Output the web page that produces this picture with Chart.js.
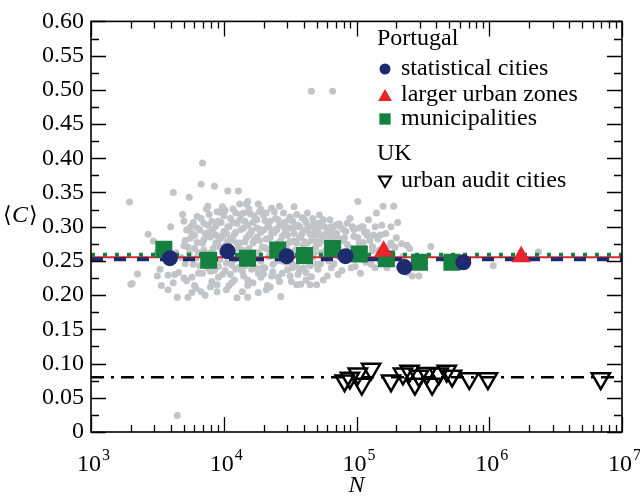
<!DOCTYPE html>
<html>
<head>
<meta charset="utf-8">
<script src="https://cdn.jsdelivr.net/npm/chart.js@4.4.1/dist/chart.umd.min.js"></script>
<style>
  html, body { margin: 0; padding: 0; background: #fff; }
  canvas { display: block; }
</style>
</head>
<body>
<canvas id="chart" width="640" height="497"></canvas>
<script>
  // --- data (x values are log10 N) ---
  var xDecades = [3, 4, 5, 6, 7];
  var yMin = 0, yMax = 0.6, yStep = 0.05;

  // grey background cloud [log10 N, C]
  var grayCities = [
    [3.29,0.336],[3.30,0.216],[3.31,0.217],[3.35,0.231],[3.43,0.289],[3.47,0.279],[3.50,0.228],[3.50,0.263],
    [3.52,0.238],[3.53,0.214],[3.55,0.271],[3.58,0.229],[3.58,0.208],[3.60,0.300],[3.62,0.350],[3.63,0.230],
    [3.64,0.262],[3.65,0.197],[3.65,0.024],[3.66,0.233],[3.68,0.255],[3.70,0.308],[3.70,0.272],[3.71,0.280],
    [3.72,0.295],[3.72,0.221],[3.73,0.197],[3.74,0.343],[3.74,0.261],[3.75,0.283],[3.76,0.204],[3.76,0.290],
    [3.77,0.306],[3.77,0.245],[3.78,0.268],[3.79,0.254],[3.79,0.210],[3.80,0.298],[3.80,0.277],[3.81,0.232],
    [3.82,0.243],[3.83,0.362],[3.83,0.312],[3.84,0.393],[3.84,0.276],[3.85,0.305],[3.85,0.266],[3.86,0.200],
    [3.86,0.290],[3.87,0.286],[3.88,0.330],[3.88,0.240],[3.88,0.302],[3.89,0.318],[3.89,0.249],[3.90,0.262],
    [3.90,0.285],[3.91,0.220],[3.92,0.296],[3.92,0.268],[3.93,0.359],[3.93,0.236],[3.94,0.276],[3.94,0.301],
    [3.95,0.215],[3.95,0.205],[3.96,0.308],[3.96,0.279],[3.97,0.252],[3.97,0.321],[3.98,0.286],[3.99,0.329],
    [3.99,0.230],[3.99,0.262],[4.00,0.316],[4.00,0.293],[4.01,0.272],[4.02,0.247],[4.03,0.352],[4.03,0.300],
    [4.03,0.278],[4.04,0.214],[4.05,0.283],[4.05,0.312],[4.06,0.244],[4.06,0.218],[4.06,0.266],[4.07,0.326],
    [4.08,0.289],[4.09,0.292],[4.09,0.238],[4.10,0.196],[4.10,0.305],[4.11,0.352],[4.11,0.268],[4.12,0.333],
    [4.12,0.310],[4.12,0.276],[4.13,0.255],[4.14,0.235],[4.15,0.298],[4.15,0.320],[4.16,0.278],[4.16,0.243],
    [4.17,0.333],[4.18,0.337],[4.18,0.222],[4.18,0.214],[4.18,0.197],[4.18,0.302],[4.19,0.288],[4.19,0.268],
    [4.20,0.319],[4.20,0.290],[4.21,0.262],[4.22,0.306],[4.22,0.249],[4.23,0.281],[4.24,0.240],[4.25,0.285],
    [4.25,0.310],[4.26,0.333],[4.26,0.204],[4.26,0.262],[4.27,0.296],[4.28,0.325],[4.28,0.292],[4.29,0.270],
    [4.29,0.240],[4.30,0.231],[4.30,0.317],[4.31,0.309],[4.32,0.208],[4.32,0.282],[4.32,0.268],[4.33,0.300],
    [4.33,0.214],[4.34,0.300],[4.35,0.262],[4.35,0.284],[4.36,0.327],[4.36,0.228],[4.37,0.245],[4.38,0.291],
    [4.38,0.262],[4.39,0.312],[4.39,0.296],[4.40,0.275],[4.41,0.226],[4.41,0.276],[4.42,0.303],[4.42,0.330],
    [4.43,0.198],[4.44,0.286],[4.44,0.250],[4.45,0.320],[4.45,0.300],[4.46,0.254],[4.47,0.293],[4.47,0.268],
    [4.48,0.237],[4.48,0.287],[4.49,0.310],[4.50,0.278],[4.50,0.314],[4.51,0.220],[4.51,0.247],[4.52,0.298],
    [4.53,0.329],[4.53,0.279],[4.54,0.266],[4.54,0.300],[4.55,0.243],[4.55,0.215],[4.56,0.302],[4.56,0.230],
    [4.56,0.262],[4.57,0.284],[4.57,0.235],[4.58,0.216],[4.59,0.313],[4.59,0.290],[4.60,0.272],[4.60,0.255],
    [4.61,0.295],[4.62,0.233],[4.62,0.306],[4.63,0.320],[4.63,0.276],[4.64,0.258],[4.65,0.289],[4.65,0.215],
    [4.65,0.243],[4.66,0.227],[4.66,0.498],[4.66,0.300],[4.68,0.306],[4.68,0.262],[4.69,0.270],[4.69,0.288],
    [4.70,0.245],[4.71,0.296],[4.71,0.238],[4.72,0.317],[4.72,0.275],[4.73,0.262],[4.74,0.283],[4.74,0.307],
    [4.74,0.302],[4.75,0.222],[4.75,0.255],[4.76,0.300],[4.77,0.290],[4.78,0.275],[4.78,0.228],[4.80,0.310],
    [4.80,0.282],[4.81,0.240],[4.81,0.300],[4.82,0.498],[4.82,0.290],[4.83,0.246],[4.84,0.265],[4.84,0.285],
    [4.85,0.303],[4.86,0.230],[4.86,0.270],[4.87,0.304],[4.88,0.282],[4.89,0.236],[4.90,0.296],[4.90,0.280],
    [4.91,0.252],[4.92,0.293],[4.93,0.274],[4.94,0.262],[4.95,0.312],[4.96,0.240],[4.97,0.300],[4.98,0.286],
    [4.99,0.242],[5.00,0.262],[5.01,0.337],[5.01,0.284],[5.02,0.298],[5.03,0.232],[5.04,0.300],[5.05,0.277],
    [5.05,0.300],[5.06,0.268],[5.07,0.248],[5.08,0.292],[5.08,0.287],[5.09,0.310],[5.11,0.245],[5.12,0.265],
    [5.12,0.271],[5.13,0.288],[5.14,0.240],[5.15,0.320],[5.16,0.282],[5.17,0.266],[5.18,0.250],[5.19,0.302],
    [5.20,0.330],[5.21,0.268],[5.22,0.290],[5.23,0.244],[5.23,0.240],[5.24,0.255],[5.25,0.273],[5.26,0.276],
    [5.26,0.300],[5.27,0.260],[5.28,0.330],[5.29,0.270],[5.30,0.284],[5.31,0.306],[5.32,0.241],[5.34,0.275],
    [5.35,0.257],[5.36,0.245],[5.38,0.273],[5.38,0.233],[5.40,0.268],[5.42,0.228],[5.43,0.245],[5.47,0.228],
    [5.56,0.271],[6.03,0.243],[6.37,0.263],
    [3.69,0.318],[3.71,0.246],[3.73,0.270],[3.75,0.300],[3.76,0.226],[3.78,0.287],[3.80,0.315],[3.81,0.262],
    [3.82,0.295],[3.84,0.232],[3.85,0.281],[3.87,0.258],[3.87,0.326],[3.89,0.292],[3.90,0.235],[3.91,0.308],
    [3.92,0.250],[3.94,0.288],[3.95,0.322],[3.96,0.242],[3.97,0.270],[3.98,0.306],[3.99,0.284],[4.01,0.236],
    [4.01,0.324],[4.02,0.290],[4.04,0.262],[4.04,0.300],[4.05,0.230],[4.07,0.280],[4.07,0.306],[4.08,0.252],
    [4.09,0.320],[4.10,0.276],[4.11,0.240],[4.13,0.296],[4.13,0.318],[4.14,0.266],[4.15,0.228],[4.16,0.308],
    [4.17,0.284],[4.18,0.258],[4.19,0.326],[4.21,0.294],[4.21,0.238],[4.22,0.276],[4.23,0.316],[4.24,0.262],
    [4.25,0.298],[4.26,0.232],[4.27,0.280],[4.27,0.322],[4.28,0.250],[4.30,0.295],[4.30,0.270],[4.31,0.240],
    [4.32,0.320],[4.33,0.282],[4.34,0.256],[4.35,0.308],[4.36,0.292],[4.37,0.270],[4.37,0.234],[4.38,0.322],
    [4.40,0.296],[4.40,0.250],[4.41,0.310],[4.43,0.280],[4.43,0.262],[4.44,0.232],[4.46,0.306],[4.46,0.290],
    [4.47,0.248],[4.49,0.276],[4.49,0.298],[4.50,0.262],[4.52,0.308],[4.52,0.240],[4.53,0.290],[4.55,0.276],
    [4.55,0.318],[4.57,0.300],[4.58,0.262],[4.58,0.286],[4.60,0.240],[4.61,0.310],[4.61,0.278],[4.63,0.294],
    [4.64,0.300],[4.64,0.248],[4.66,0.280],[4.67,0.312],[4.67,0.255],[4.69,0.296],[4.70,0.278],[4.70,0.305],
    [4.72,0.290],[4.73,0.246],[4.75,0.310],[4.76,0.280],[4.77,0.266],[4.79,0.296],[4.79,0.250],[4.82,0.276],
    [4.83,0.300],[4.85,0.290],[4.87,0.256],[4.88,0.300],[4.91,0.284],[4.93,0.305],[4.95,0.268],[4.98,0.296],
    [5.02,0.276],[5.06,0.292],[5.10,0.280],[5.14,0.300],[5.18,0.288],
    [3.62,0.218],[3.70,0.225],[3.78,0.214],[3.83,0.205],[3.90,0.212],[3.96,0.226],[4.02,0.208],[4.08,0.222],
    [4.14,0.205],[4.22,0.218],[4.28,0.226],[4.35,0.212],[4.42,0.220],[4.50,0.228],[4.62,0.222],[4.70,0.215]
  ];

  // Portugal
  var statCitiesN = [3930, 10700, 29800, 82600, 229700, 638000];
  var statCitiesC = [0.254, 0.264, 0.257, 0.257, 0.241, 0.248];
  var luzN = [160000, 1740000];
  var luzC = [0.264, 0.256];
  var municipN = [3540, 7700, 15100, 25500, 40600, 66100, 105000, 168000, 298000, 523000];
  var municipC = [0.267, 0.251, 0.254, 0.266, 0.258, 0.268, 0.260, 0.253, 0.248, 0.248];

  // UK urban audit cities
  var ukLogN = [4.91, 4.95, 5.01, 5.04, 5.11, 5.26, 5.35, 5.40, 5.44, 5.47, 5.53, 5.57, 5.62, 5.68, 5.72, 5.85, 5.99, 6.84];
  var ukC = [0.075, 0.079, 0.085, 0.070, 0.092, 0.075, 0.085, 0.089, 0.070, 0.082, 0.086, 0.070, 0.085, 0.089, 0.082, 0.078, 0.078, 0.078];

  // mean lines
  var meanStat = 0.2525, meanLuz = 0.2555, meanMunicip = 0.259, meanUK = 0.080;

  var SERIF = '"Liberation Serif", "Times New Roman", serif';
  var NAVY = '#1e2a6e', RED = '#e8232b', GREEN = '#15803f', GREY = '#c3c4c7';

  function pts(xs, ys) {
    return xs.map(function (x, i) { return { x: x, y: ys[i] }; });
  }
  function hline(v) {
    return [{ x: Math.pow(10, xDecades[0]), y: v }, { x: Math.pow(10, xDecades[xDecades.length - 1]), y: v }];
  }

  var legendRows = [
    { head: 'Portugal', y: 39 },
    { label: 'statistical cities', y: 69, style: { pointStyle: 'circle', radius: 5.5, fill: NAVY, stroke: NAVY, bw: 0 } },
    { label: 'larger urban zones', y: 95, style: { pointStyle: 'triangle', radius: 8, fill: RED, stroke: RED, bw: 0 } },
    { label: 'municipalities', y: 119, style: { pointStyle: 'rect', radius: 8, fill: GREEN, stroke: GREEN, bw: 0 } },
    { head: 'UK', y: 154 },
    { label: 'urban audit cities', y: 181, style: { pointStyle: 'triangle', radius: 7, rotation: 180, fill: 'rgba(0,0,0,0)', stroke: '#000', bw: 2 } }
  ];

  var frame = {
    id: 'frame',
    afterDatasetsDraw: function (chart) {
      var ctx = chart.ctx;
      var a = chart.chartArea;
      var xs = chart.scales.x, ys = chart.scales.y;
      var i, m, px, py;
      ctx.save();
      ctx.strokeStyle = '#000';
      ctx.lineWidth = 1.3;
      ctx.beginPath();
      // x ticks, top and bottom, pointing in
      for (i = 0; i < xDecades.length; i++) {
        px = Math.round(xs.getPixelForValue(Math.pow(10, xDecades[i]))) + 0.5;
        ctx.moveTo(px, a.bottom); ctx.lineTo(px, a.bottom - 15);
        ctx.moveTo(px, a.top); ctx.lineTo(px, a.top + 15);
        if (i < xDecades.length - 1) {
          for (m = 2; m <= 9; m++) {
            px = Math.round(xs.getPixelForValue(m * Math.pow(10, xDecades[i]))) + 0.5;
            ctx.moveTo(px, a.bottom); ctx.lineTo(px, a.bottom - 7);
            ctx.moveTo(px, a.top); ctx.lineTo(px, a.top + 7);
          }
        }
      }
      // y ticks, left and right
      var n = Math.round((yMax - yMin) / (yStep / 2));
      for (i = 0; i <= n; i++) {
        py = Math.round(ys.getPixelForValue(yMin + i * yStep / 2)) + 0.5;
        var len = i % 2 === 0 ? 15 : 8;
        ctx.moveTo(a.left, py); ctx.lineTo(a.left + len, py);
        ctx.moveTo(a.right, py); ctx.lineTo(a.right - len, py);
      }
      ctx.stroke();
      ctx.lineWidth = 1.6;
      ctx.strokeRect(a.left, a.top, a.right - a.left, a.bottom - a.top);

      // x tick labels 10^k
      ctx.fillStyle = '#000';
      ctx.textBaseline = 'middle';
      ctx.textAlign = 'left';
      for (i = 0; i < xDecades.length; i++) {
        px = xs.getPixelForValue(Math.pow(10, xDecades[i]));
        ctx.font = '24px ' + SERIF;
        var wBase = ctx.measureText('10').width;
        ctx.font = '16px ' + SERIF;
        var wExp = ctx.measureText(String(xDecades[i])).width;
        var x0 = px - (wBase + wExp) / 2 + 2;
        ctx.font = '24px ' + SERIF;
        ctx.fillText('10', x0, 465);
        ctx.font = '16px ' + SERIF;
        ctx.fillText(String(xDecades[i]), x0 + wBase + 1, 456);
      }
      // axis titles
      ctx.textAlign = 'center';
      ctx.font = 'italic 24px ' + SERIF;
      ctx.fillText('N', (a.left + a.right) / 2, 486);
      // <C> with an italic C
      ctx.textAlign = 'left';
      ctx.font = '22px ' + SERIF;
      var wl = ctx.measureText('\u27E8').width;
      ctx.fillText('\u27E8', 3, 216);
      ctx.font = 'italic 24px ' + SERIF;
      var wc = ctx.measureText('C').width;
      ctx.fillText('C', 3 + wl, 216);
      ctx.font = '22px ' + SERIF;
      ctx.fillText('\u27E9', 3 + wl + wc + 1, 216);

      // legend
      legendRows.forEach(function (r) {
        ctx.font = '24px ' + SERIF;
        ctx.fillStyle = '#000';
        if (r.head) {
          ctx.fillText(r.head, 377, r.y);
          return;
        }
        ctx.fillText(r.label, 401, r.y);
        var s = r.style;
        ctx.fillStyle = s.fill;
        ctx.strokeStyle = s.stroke;
        ctx.lineWidth = s.bw;
        Chart.helpers.drawPoint(ctx, { pointStyle: s.pointStyle, radius: s.radius, rotation: s.rotation || 0, borderWidth: s.bw }, 385, r.y + (s.pointStyle === 'triangle' ? (s.rotation ? -1 : 2) : 0));
      });
      ctx.restore();
    }
  };

  new Chart(document.getElementById('chart'), {
    type: 'scatter',
    data: {
      datasets: [
        {
          label: 'larger urban zones',
          data: pts(luzN, luzC),
          pointStyle: 'triangle', pointRadius: 11, pointHoverRadius: 11,
          backgroundColor: RED, borderColor: RED, borderWidth: 0, order: 1
        },
        {
          label: 'statistical cities',
          data: pts(statCitiesN, statCitiesC),
          pointStyle: 'circle', pointRadius: 8, pointHoverRadius: 8,
          backgroundColor: NAVY, borderColor: NAVY, borderWidth: 0, order: 2
        },
        {
          label: 'municipalities',
          data: pts(municipN, municipC),
          pointStyle: 'rect', pointRadius: 12, pointHoverRadius: 12,
          backgroundColor: GREEN, borderColor: GREEN, borderWidth: 0, order: 3
        },
        {
          label: 'urban audit cities',
          data: ukLogN.map(function (v, i) { return { x: Math.pow(10, v), y: ukC[i] }; }),
          pointStyle: 'triangle', pointRotation: 180, pointRadius: 10.5, pointHoverRadius: 10.5,
          backgroundColor: 'rgba(0,0,0,0)', borderColor: '#000', borderWidth: 2.5, order: 4
        },
        {
          label: 'mean municipalities', data: hline(meanMunicip), showLine: true, pointRadius: 0,
          borderColor: GREEN, borderWidth: 4, borderDash: [4, 8], borderCapStyle: 'butt', order: 5
        },
        {
          label: 'mean statistical cities', data: hline(meanStat), showLine: true, pointRadius: 0,
          borderColor: NAVY, borderWidth: 4, borderDash: [12, 11], borderCapStyle: 'butt', order: 6
        },
        {
          label: 'mean larger urban zones', data: hline(meanLuz), showLine: true, pointRadius: 0,
          borderColor: RED, borderWidth: 2, order: 7
        },
        {
          label: 'mean UK', data: hline(meanUK), showLine: true, pointRadius: 0,
          borderColor: '#000', borderWidth: 2.5, borderDash: [13, 7, 3, 7], borderCapStyle: 'butt', order: 8
        },
        {
          label: 'all cities',
          data: grayCities.map(function (p) { return { x: Math.pow(10, p[0]), y: p[1] }; }),
          pointStyle: 'circle', pointRadius: 3.5, pointHoverRadius: 3.5,
          backgroundColor: GREY, borderWidth: 0, order: 9
        }
      ]
    },
    options: {
      responsive: false,
      animation: false,
      devicePixelRatio: 1,
      layout: { padding: { left: 0, right: 18, top: 14, bottom: 0 } },
      plugins: { legend: { display: false }, tooltip: { enabled: false } },
      scales: {
        x: {
          type: 'logarithmic',
          min: Math.pow(10, xDecades[0]),
          max: Math.pow(10, xDecades[xDecades.length - 1]),
          grid: { display: false, drawTicks: false },
          border: { display: false },
          ticks: { display: false },
          afterFit: function (s) { s.height = 65; }
        },
        y: {
          min: yMin, max: yMax,
          grid: { display: false, drawTicks: false },
          border: { display: false },
          ticks: {
            stepSize: yStep,
            padding: 7,
            color: '#000',
            font: { family: SERIF, size: 24 },
            callback: function (v) { return Math.abs(v) < 1e-9 ? '0' : v.toFixed(2); }
          },
          afterFit: function (s) { s.width = 91; }
        }
      }
    },
    plugins: [frame]
  });
</script>
</body>
</html>
